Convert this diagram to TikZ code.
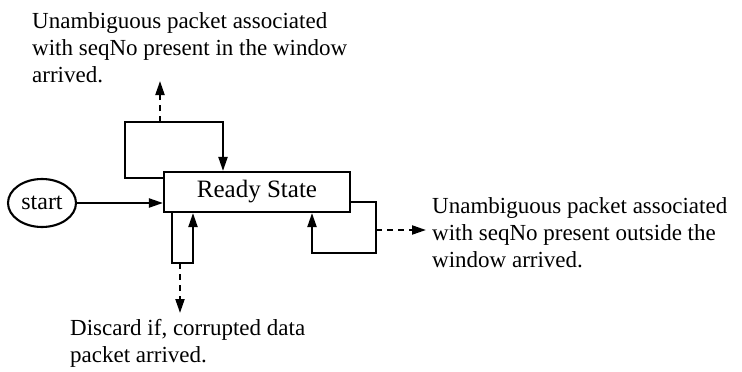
\documentclass[tikz,border=0pt]{standalone}
\usepackage{fontspec}
\setmainfont{Liberation Serif}
\usetikzlibrary{arrows.meta,shapes.geometric}
\begin{document}
\begin{tikzpicture}[x=1pt,y=-1pt,
  wire/.style={line width=2.1pt},
  arr/.style={wire,-{Triangle[length=14pt,width=9pt]}},
  darr/.style={arr,dash pattern=on 6pt off 5pt},
  txt/.style={font=\fontsize{23}{27}\selectfont,align=left,inner sep=0pt,anchor=north west},
  statebox/.style={draw,line width=2.1pt,minimum width=186pt,minimum height=40pt,inner sep=0pt,font=\fontsize{25}{28}\selectfont},
  startnode/.style={draw,ellipse,line width=2.1pt,minimum width=68pt,minimum height=48pt,inner sep=0pt,font=\fontsize{24}{26}\selectfont}]
\useasboundingbox[fill=white] (0,0) rectangle (742,372);

% states
\node[statebox] (ready) at (257,192) {Ready State};
\node[startnode] (start) at (42,203) {start};

% labels
\node[txt] (lblin) at (32,12) {Unambiguous packet associated\\with seqNo present in the window\\arrived.};
\node[txt] (lblout) at (432,197) {Unambiguous packet associated\\with seqNo present outside the\\window arrived.};
\node[txt] (lbldis) at (70,319) {Discard if, corrupted data\\packet arrived.};

% corner points of the self loops
\coordinate (t1) at (125,178);
\coordinate (t2) at (125,122);
\coordinate (t3) at (223,122);
\coordinate (tout) at (160,122);
\coordinate (tend) at (160,81);
\coordinate (b1) at (172,263);
\coordinate (b2) at (193,263);
\coordinate (bout) at (180,263);
\coordinate (bend) at (180,313);
\coordinate (r1) at (376,202);
\coordinate (r2) at (376,253);
\coordinate (r3) at (312,253);
\coordinate (rout) at (376,230);
\coordinate (rend) at (426,230);

% start transition
\draw[arr] (start.east) -- (start.east -| ready.west);

% loop above the state
\draw[arr] (t1 -| ready.west) -- (t1) -- (t2) -- (t3) -- (t3 |- ready.north);
\draw[darr] (tout) -- (tend);

% loop below the state
\draw[arr] (b1 |- ready.south) -- (b1) -- (b2) -- (b2 |- ready.south);
\draw[darr] (bout) -- (bend);

% loop on the right
\draw[arr] (r1 -| ready.east) -- (r1) -- (r2) -- (r3) -- (r3 |- ready.south);
\draw[darr] (rout) -- (rend);
\end{tikzpicture}
\end{document}
